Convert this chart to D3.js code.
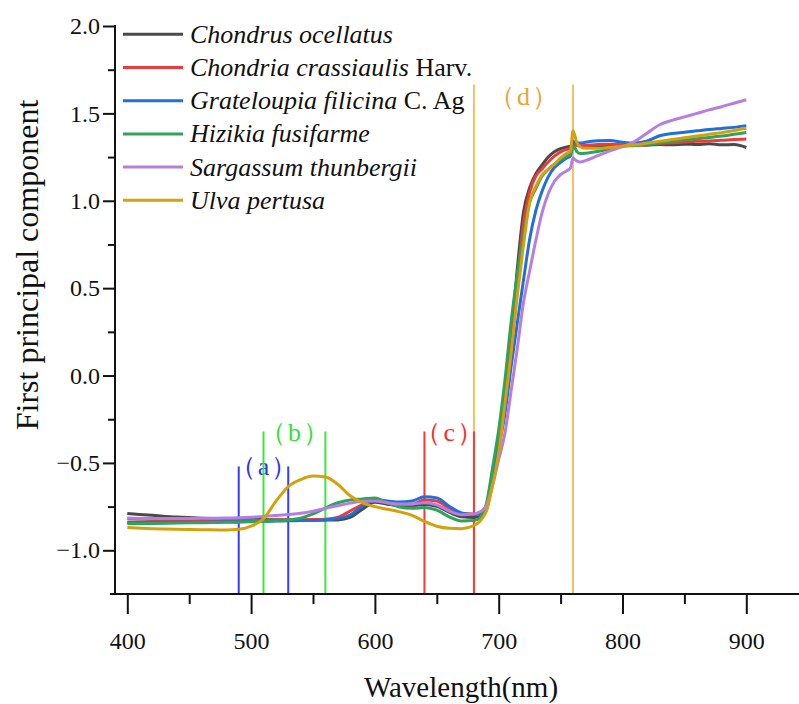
<!DOCTYPE html>
<html><head><meta charset="utf-8">
<script src="https://cdn.jsdelivr.net/npm/d3@7"></script>
<style>
html,body{margin:0;padding:0;background:#fff;}
svg{display:block;}
svg text{font-family:"Liberation Serif","Times New Roman",serif;fill:#111;}
</style></head>
<body>
<svg id="chart" width="799" height="704"></svg>
<script>
// ---------- data ----------
const wavelengths = [400,420,440,460,480,490,500,510,520,530,540,550,560,570,580,590,600,610,620,630,640,650,660,670,680,685,690,695,700,705,710,715,720,725,730,735,740,745,750,755,758,760,761,763,766,770,780,790,800,810,820,830,840,850,860,870,880,890,900];

const chondrus = [-0.790,-0.800,-0.810,-0.816,-0.820,-0.822,-0.823,-0.824,-0.825,-0.826,-0.826,-0.827,-0.827,-0.826,-0.812,-0.765,-0.725,-0.736,-0.744,-0.745,-0.738,-0.748,-0.782,-0.808,-0.812,-0.806,-0.770,-0.600,-0.375,-0.110,0.225,0.610,0.935,1.075,1.155,1.205,1.250,1.280,1.298,1.308,1.312,1.335,1.325,1.318,1.314,1.312,1.316,1.318,1.318,1.320,1.318,1.322,1.320,1.324,1.322,1.326,1.320,1.322,1.305];
const chondria = [-0.820,-0.824,-0.827,-0.829,-0.830,-0.830,-0.830,-0.829,-0.828,-0.826,-0.825,-0.824,-0.822,-0.812,-0.775,-0.738,-0.712,-0.728,-0.740,-0.738,-0.712,-0.718,-0.760,-0.790,-0.792,-0.785,-0.745,-0.590,-0.365,-0.090,0.210,0.550,0.870,1.050,1.142,1.182,1.222,1.255,1.280,1.295,1.300,1.340,1.332,1.318,1.315,1.316,1.322,1.324,1.320,1.318,1.322,1.328,1.332,1.336,1.340,1.342,1.346,1.350,1.353];
const grateloupia = [-0.840,-0.840,-0.840,-0.839,-0.837,-0.836,-0.835,-0.834,-0.833,-0.831,-0.830,-0.829,-0.826,-0.818,-0.798,-0.748,-0.712,-0.718,-0.724,-0.718,-0.694,-0.700,-0.748,-0.786,-0.796,-0.790,-0.745,-0.585,-0.410,-0.220,0.050,0.300,0.545,0.780,0.943,1.054,1.137,1.190,1.220,1.245,1.258,1.330,1.338,1.330,1.330,1.335,1.343,1.345,1.335,1.330,1.342,1.372,1.385,1.392,1.400,1.408,1.414,1.420,1.430];
const hizikia = [-0.847,-0.846,-0.844,-0.842,-0.840,-0.839,-0.837,-0.834,-0.831,-0.826,-0.816,-0.792,-0.758,-0.728,-0.712,-0.706,-0.700,-0.728,-0.752,-0.760,-0.755,-0.770,-0.808,-0.832,-0.830,-0.812,-0.735,-0.530,-0.310,-0.030,0.305,0.575,0.800,0.990,1.070,1.140,1.180,1.210,1.235,1.255,1.268,1.305,1.310,1.282,1.270,1.272,1.282,1.296,1.310,1.316,1.322,1.330,1.340,1.348,1.355,1.362,1.370,1.380,1.390];
const sargassum = [-0.815,-0.818,-0.818,-0.817,-0.815,-0.814,-0.811,-0.806,-0.801,-0.795,-0.788,-0.776,-0.760,-0.745,-0.730,-0.720,-0.718,-0.728,-0.735,-0.735,-0.728,-0.740,-0.775,-0.796,-0.792,-0.780,-0.745,-0.630,-0.480,-0.331,-0.090,0.155,0.416,0.598,0.774,0.931,1.040,1.110,1.150,1.172,1.188,1.245,1.238,1.228,1.222,1.230,1.258,1.285,1.310,1.340,1.388,1.435,1.460,1.480,1.500,1.520,1.538,1.558,1.578];
const ulva = [-0.870,-0.876,-0.880,-0.882,-0.884,-0.880,-0.862,-0.820,-0.720,-0.635,-0.595,-0.575,-0.580,-0.622,-0.688,-0.728,-0.750,-0.765,-0.780,-0.800,-0.835,-0.862,-0.874,-0.876,-0.858,-0.832,-0.775,-0.630,-0.440,-0.165,0.124,0.455,0.744,0.990,1.081,1.147,1.180,1.210,1.245,1.272,1.285,1.400,1.385,1.335,1.308,1.300,1.300,1.305,1.312,1.320,1.330,1.340,1.350,1.360,1.370,1.380,1.390,1.402,1.415];

const seriesNames = [
  {italic:"Chondrus ocellatus", plain:""},
  {italic:"Chondria crassiaulis", plain:" Harv."},
  {italic:"Grateloupia filicina", plain:" C. Ag"},
  {italic:"Hizikia fusifarme", plain:""},
  {italic:"Sargassum thunbergii", plain:""},
  {italic:"Ulva pertusa", plain:""}
];
const seriesValues = [chondrus, chondria, grateloupia, hizikia, sargassum, ulva];
const seriesColors = ["#4a4a4a","#ee3a3a","#1f6fdc","#2ea35a","#b67ee0","#d3a10c"];

// band markers: pairs of wavelengths, line tops, label positions
const bandLabels = ["（a）","（b）","（c）","（d）"];
const bandFrom   = [490, 510, 640, 680];
const bandTo     = [530, 560, 680, 760];
const bandTop    = [-0.52, -0.32, -0.32, 1.665];
const bandLabelY = [-0.567, -0.372, -0.372, 1.547];
const bandLineColors  = ["#3a3aff","#3de83d","#ff3535","#f2c062"];
const bandLabelColors = ["#2d2dff","#33e033","#ff2a2a","#eaa62e"];

const yMajor = [-1.0,-0.5,0.0,0.5,1.0,1.5,2.0];
const yMinor = [-0.75,-0.25,0.25,0.75,1.25,1.75];
const xMajor = [400,500,600,700,800,900];
const xMinor = [450,550,650,750,850];

// ---------- layout ----------
const SERIF = '"Liberation Serif","Times New Roman",serif';
const svg = d3.select("#chart");
const x = d3.scaleLinear().domain([400, 900]).range([127.3, 746.3]);
const y = d3.scaleLinear().domain([-1.25, 2.0]).range([594, 26]);
const axisX0 = 115, axisY0 = 594;

// band marker lines (orange first, others over)
const order = [3,0,1,2];
order.forEach(i => {
  [bandFrom[i], bandTo[i]].forEach(w => {
    svg.append("line")
      .attr("x1", x(w)).attr("x2", x(w))
      .attr("y1", y(bandTop[i])).attr("y2", axisY0)
      .attr("stroke", bandLineColors[i]).attr("stroke-width", 2);
  });
  svg.append("text")
    .attr("x", (x(bandFrom[i]) + x(bandTo[i]))/2 + 1)
    .attr("y", y(bandLabelY[i]))
    .attr("text-anchor","middle")
    .style("font-family", SERIF)
    .style("font-size","26px")
    .style("letter-spacing","2px")
    .style("fill", bandLabelColors[i])
    .text(bandLabels[i]);
});

// series lines
const line = d3.line()
  .x((d,i) => x(wavelengths[i]))
  .y(d => y(d))
  .curve(d3.curveMonotoneX);
seriesValues.forEach((vals, k) => {
  svg.append("path")
    .attr("d", line(vals))
    .attr("fill","none")
    .attr("stroke", seriesColors[k])
    .attr("stroke-width", 3)
    .attr("stroke-linejoin","round");
});

// axes
const yAxisMajor = d3.axisLeft(y).tickValues(yMajor).tickSize(12).tickPadding(3).tickFormat(d3.format(".1f"));
const yAxisMinor = d3.axisLeft(y).tickValues(yMinor).tickSize(7).tickFormat("");
const xAxisMajor = d3.axisBottom(x).tickValues(xMajor).tickSize(20).tickPadding(18).tickFormat(d3.format("d"));
const xAxisMinor = d3.axisBottom(x).tickValues(xMinor).tickSize(10).tickFormat("");

function styleAxis(g){
  g.attr("font-family", SERIF).attr("font-size", 24);
  g.select(".domain").remove();
  g.selectAll(".tick line").attr("stroke","#111").attr("stroke-width",2);
  g.selectAll(".tick text").style("font-family", SERIF).style("font-size","24px").style("fill","#111");
}
svg.append("g").attr("transform",`translate(${axisX0},0)`).call(yAxisMajor).call(styleAxis);
svg.append("g").attr("transform",`translate(${axisX0},0)`).call(yAxisMinor).call(styleAxis);
svg.append("g").attr("transform",`translate(0,${axisY0})`).call(xAxisMajor).call(styleAxis);
svg.append("g").attr("transform",`translate(0,${axisY0})`).call(xAxisMinor).call(styleAxis);

svg.append("line").attr("x1",axisX0).attr("x2",axisX0).attr("y1",y(2.0)-1).attr("y2",axisY0+1)
  .attr("stroke","#111").attr("stroke-width",2);
svg.append("line").attr("x1",110).attr("x2",799).attr("y1",axisY0).attr("y2",axisY0)
  .attr("stroke","#111").attr("stroke-width",2);

// axis titles
svg.append("text")
  .attr("x", 461).attr("y", 697)
  .attr("text-anchor","middle")
  .style("font-family", SERIF)
  .style("font-size","29px")
  .text("Wavelength(nm)");
svg.append("text")
  .attr("transform","translate(38,265) rotate(-90)")
  .attr("text-anchor","middle")
  .style("font-family", SERIF)
  .style("font-size","32px")
  .text("First principal component");

// legend
const legY0 = 34.3, legStep = 33.2;
seriesNames.forEach((s, k) => {
  const yy = legY0 + k*legStep;
  svg.append("line").attr("x1",123).attr("x2",183).attr("y1",yy).attr("y2",yy)
    .attr("stroke", seriesColors[k]).attr("stroke-width",3);
  const t = svg.append("text").attr("x",190).attr("y",yy).attr("dy","0.33em")
    .style("font-family", SERIF)
    .style("font-size","26px");
  t.append("tspan").style("font-style","italic").text(s.italic);
  if (s.plain) t.append("tspan").text(s.plain);
});
</script>
</body></html>
